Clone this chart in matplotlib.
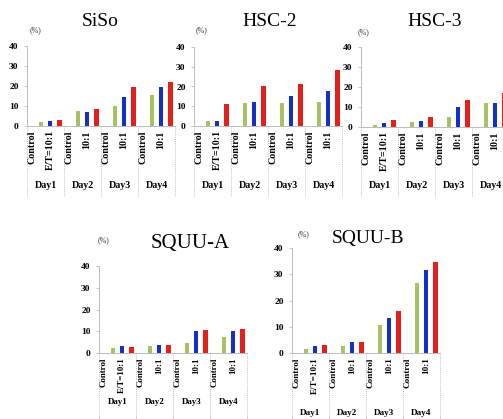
import matplotlib
matplotlib.use("Agg")
import matplotlib.pyplot as plt
import numpy as np

plt.rcParams['font.family'] = ['Liberation Serif', 'DejaVu Serif']

W, H = 503, 419

days = ["Day1", "Day2", "Day3", "Day4"]
first_label = "E/T=10:1"
other_label = "10:1"

# percent values per cell line: control (green), 10:1 (blue), 10:1 (red)
siso_control = [2.0, 7.5, 10.0, 15.5]
siso_blue = [2.5, 7.2, 14.3, 19.7]
siso_red = [3.2, 8.7, 19.3, 22.0]

hsc2_control = [2.3, 11.7, 11.7, 12.4]
hsc2_blue = [2.3, 12.2, 15.2, 17.5]
hsc2_red = [11.0, 20.0, 21.2, 28.6]

hsc3_control = [0.8, 2.5, 5.0, 12.0]
hsc3_blue = [1.8, 3.0, 9.8, 12.1]
hsc3_red = [3.3, 4.8, 13.6, 16.8]

squua_control = [2.2, 3.3, 4.7, 7.5]
squua_blue = [3.0, 3.5, 10.0, 10.0]
squua_red = [2.8, 3.8, 10.4, 11.0]

squub_control = [1.5, 2.8, 10.5, 26.5]
squub_blue = [2.5, 4.1, 13.3, 31.6]
squub_red = [3.2, 4.1, 16.1, 34.7]

GREEN = "#a6c265"
BLUE = "#1530c8"
RED = "#e3201c"

# name, data, left px, zero px, top(40) px, title xy, pct xy, title size, label size, dotted line end, day row
panels = [
    ("SiSo", (siso_control, siso_blue, siso_red), 27, 126, 46, (100, 22), (35, 30), 14, 7.2, 197, 186),
    ("HSC-2", (hsc2_control, hsc2_blue, hsc2_red), 194, 126, 47, (270, 22), (202, 30), 14, 7.2, 197, 186),
    ("HSC-3", (hsc3_control, hsc3_blue, hsc3_red), 361, 127, 47, (435, 22), (363, 32), 14, 7.2, 197, 186),
    ("SQUU-A", (squua_control, squua_blue, squua_red), 99, 353, 266, (190, 243), (103, 240), 15, 6.4, 419, 402),
    ("SQUU-B", (squub_control, squub_blue, squub_red), 292, 353, 248, (368, 238), (303, 234), 14, 6.6, 419, 413),
]

group_px = 37.0
fig = plt.figure(figsize=(W / 100, H / 100), dpi=100)

for name, data, left, zero, top, title_xy, pct_xy, tsize, lsize, line_end, day_px in panels:
    ax = fig.add_axes([left / W, (H - zero) / H, 4 * group_px / W, (zero - top) / H])
    ax.set_xlim(0, 16)
    ax.set_ylim(0, 40)
    for k, (vals, col) in enumerate(zip(data, (GREEN, BLUE, RED))):
        x = np.arange(4) * 4 + 1.5 + k
        ax.bar(x, vals, width=0.48, color=col, edgecolor='none', zorder=3)

    for s in ("top", "right"):
        ax.spines[s].set_visible(False)
    for s in ("left", "bottom"):
        ax.spines[s].set_color("#bbbbbb")
        ax.spines[s].set_linewidth(0.7)
    ax.set_yticks([0, 10, 20, 30, 40])
    ax.tick_params(axis='y', length=2, width=0.6, color="#bbbbbb", pad=4,
                   labelsize=6.8)
    for t in ax.get_yticklabels():
        t.set_fontweight('bold')

    ticks, labels = [], []
    for d in range(4):
        ticks += [d * 4 + 0.5, d * 4 + 2.5]
        labels += ["Control", first_label if d == 0 else other_label]
    ax.set_xticks(ticks)
    ax.set_xticklabels(labels, rotation=90, fontsize=lsize, fontweight='bold',
                       va='top', ha='center')
    ax.tick_params(axis='x', length=0, pad=3)

    # dotted separators and day row
    ax_h = zero - top
    y_end = -(line_end - zero) / ax_h
    for d in range(5):
        ax.plot([d * 4, d * 4], [0, y_end], transform=ax.get_xaxis_transform(),
                color="#aaaaaa", lw=0.6, ls=(0, (1, 1.5)), clip_on=False)
    for d, lab in enumerate(days):
        ax.text(d * 4 + 2, -(day_px - zero) / ax_h, lab, transform=ax.get_xaxis_transform(),
                ha='center', va='center', fontsize=lsize, fontweight='bold')

    fig.text(title_xy[0] / W, 1 - title_xy[1] / H, name, ha='center', va='center',
             fontsize=tsize)
    fig.text(pct_xy[0] / W, 1 - pct_xy[1] / H, "(%)", ha='center', va='center',
             fontsize=5.8, color="#333333")

fig.savefig("out.png", dpi=100)
